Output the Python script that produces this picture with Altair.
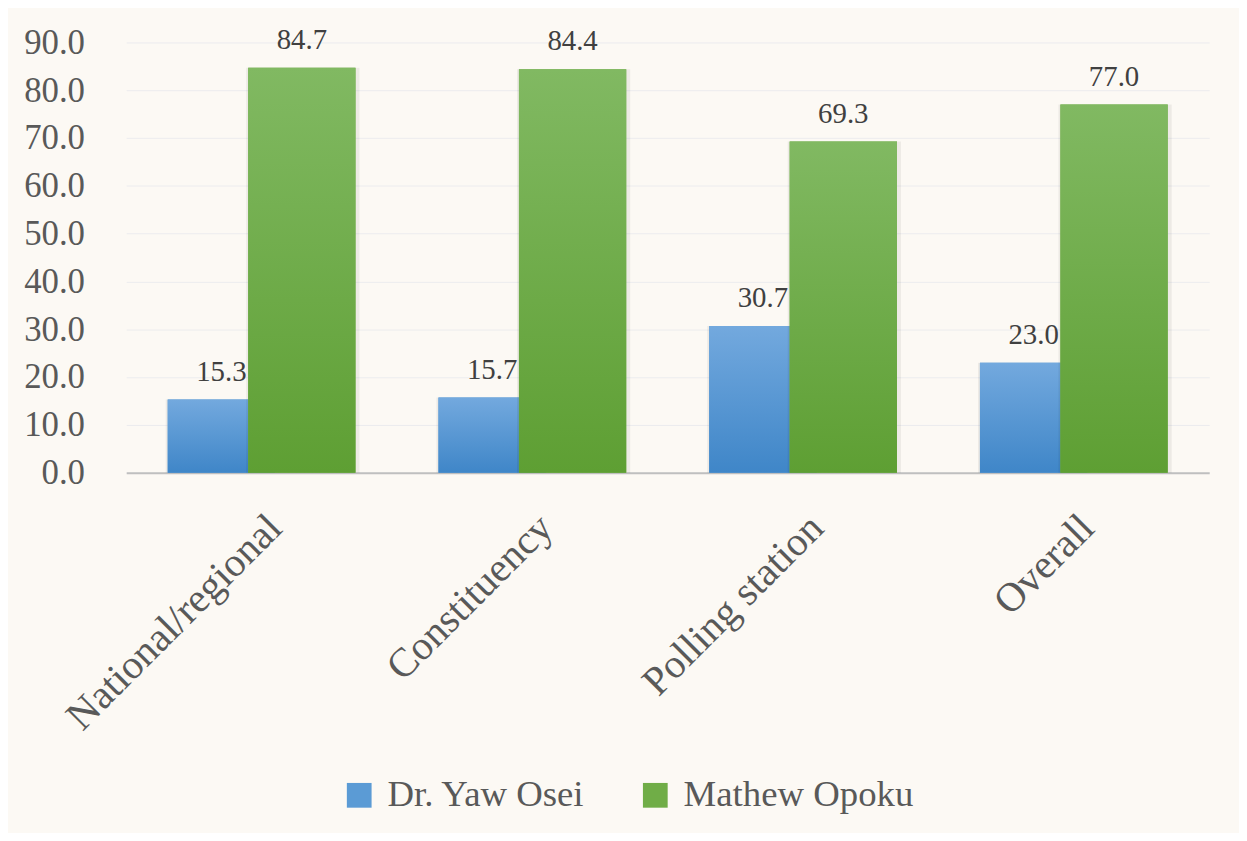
import altair as alt
import pandas as pd

categories = ["National/regional", "Constituency", "Polling station", "Overall"]
series_names = ["Dr. Yaw Osei", "Mathew Opoku"]
osei = [15.3, 15.7, 30.7, 23.0]
opoku = [84.7, 84.4, 69.3, 77.0]

rows = []
for c, a, b in zip(categories, osei, opoku):
    rows.append({"category": c, "series": series_names[0], "value": a})
    rows.append({"category": c, "series": series_names[1], "value": b})
df = pd.DataFrame(rows)

FONT = "Liberation Serif"
BAR_W = 108
OFF = 40.5

x_enc = alt.X("category:N", sort=categories, title=None,
              scale=alt.Scale(paddingInner=0, paddingOuter=0),
              axis=alt.Axis(labelAngle=-45, labelFontSize=41, labelColor="#595959",
                            labelFont=FONT, ticks=False, domainColor="#BFBFBF",
                            domainWidth=2, labelPadding=35, grid=False, labelLimit=500))
y_enc = alt.Y("value:Q", title=None,
              scale=alt.Scale(domain=[0, 90], nice=False),
              axis=alt.Axis(values=list(range(0, 100, 10)), format=".1f",
                            labelFontSize=35, labelColor="#595959", labelFont=FONT,
                            domain=False, ticks=False, labelPadding=42,
                            gridColor="#ECECEE", gridWidth=1))

def grad(top, bottom):
    return alt.Gradient(gradient="linear",
                        stops=[alt.GradientStop(color=top, offset=0),
                               alt.GradientStop(color=bottom, offset=1)],
                        x1=0, x2=0, y1=0, y2=1)

base = alt.Chart(df)

layers = []
offsets = {series_names[0]: -OFF, series_names[1]: OFF}
grads = {series_names[0]: grad("#73A9DE", "#3F86C8"),
         series_names[1]: grad("#81B962", "#5E9F33")}

for s in series_names:
    sub = base.transform_filter(alt.datum.series == s)
    # shadow
    layers.append(sub.mark_bar(size=BAR_W + 6, xOffset=offsets[s] + 1, color="#000000",
                               opacity=0.06).encode(x=x_enc, y=y_enc))
    # legend-carrying solid bar
    layers.append(sub.mark_bar(size=BAR_W, xOffset=offsets[s]).encode(
        x=x_enc, y=y_enc,
        color=alt.Color("series:N", sort=series_names,
                        scale=alt.Scale(domain=series_names, range=["#5B9BD5", "#70AD47"]),
                        legend=alt.Legend(title=None, orient="none", direction="horizontal",
                                          legendX=216, legendY=739, symbolType="square",
                                          symbolSize=620, symbolStrokeWidth=0,
                                          labelFontSize=37, labelFont=FONT,
                                          labelColor="#595959", labelOffset=10,
                                          labelLimit=500, columnPadding=52))))
    # gradient bar on top
    layers.append(sub.mark_bar(size=BAR_W, xOffset=offsets[s], fill=grads[s]).encode(
        x=x_enc, y=y_enc))
    # value labels
    layers.append(sub.mark_text(xOffset=offsets[s], dy=-19, baseline="alphabetic",
                                fontSize=29, font=FONT, color="#404040").encode(
        x=x_enc, y=y_enc, text=alt.Text("value:Q", format=".1f")))

chart = alt.layer(*layers).properties(
    width=1090, height=433,
    autosize=alt.AutoSizeParams(type="none"),
    padding={"left": 119, "top": 32, "right": 30, "bottom": 360},
    background="#FCF9F4",
).configure_view(stroke=None)

chart.save("out.html", embed_options={"renderer": "svg", "actions": False})
